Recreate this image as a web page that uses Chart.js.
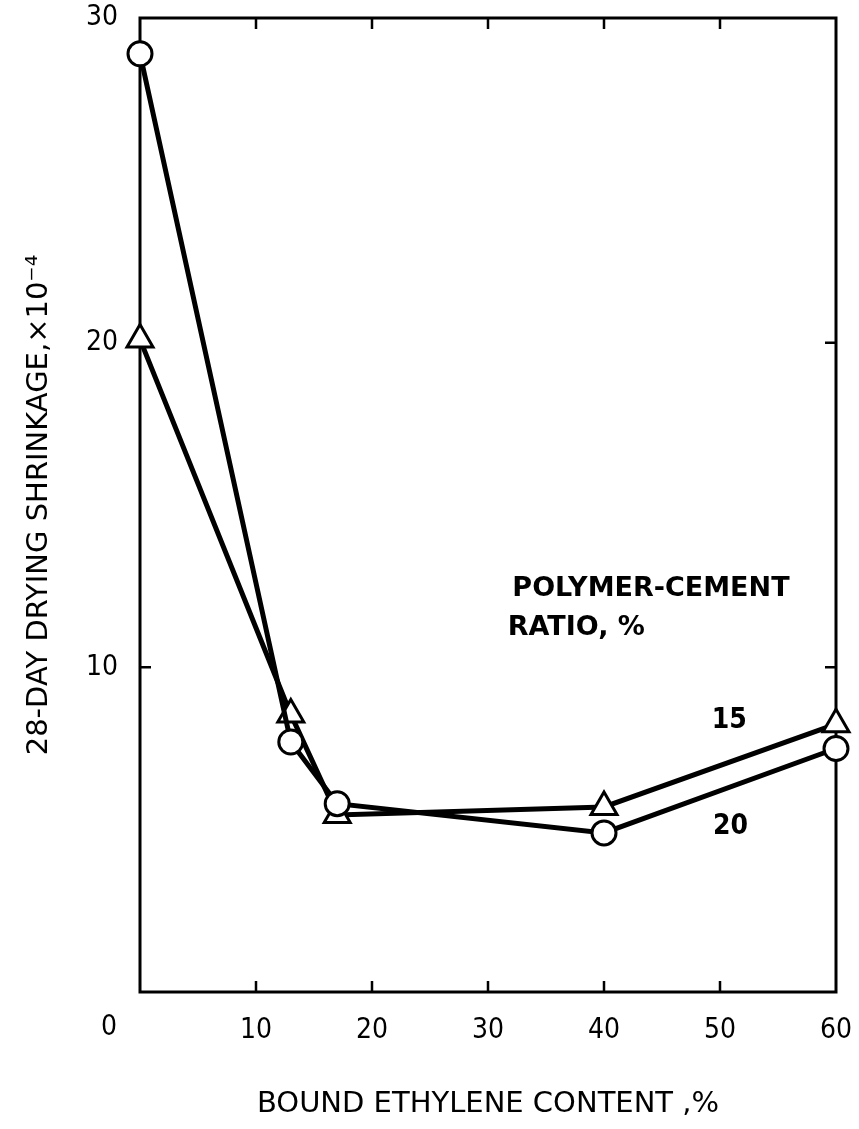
<!DOCTYPE html>
<html>
<head>
<meta charset="utf-8">
<script src="https://cdn.jsdelivr.net/npm/chart.js@4.4.0/dist/chart.umd.min.js"></script>
<style>
  html, body { margin: 0; padding: 0; background: #fff; }
  #wrap { width: 859px; height: 1129px; }
</style>
</head>
<body>
<div id="wrap"><canvas id="shrinkChart"></canvas></div>
<script>
// bound ethylene content, %
const bound = [0, 13, 17, 40, 60];
// 28-day drying shrinkage x10^-4, by polymer-cement ratio
const ratio15 = [20.1, 8.55, 5.45, 5.7, 8.25];
const ratio20 = [28.9, 7.7, 5.8, 4.9, 7.5];
const xTicks = [0, 10, 20, 30, 40, 50, 60];
const yTicks = [0, 10, 20, 30];

const FONT = "'Liberation Sans Narrow', 'DejaVu Sans Condensed', sans-serif";
const TITLE_FONT = "'DejaVu Sans', sans-serif";

const toPoints = ys => bound.map((x, i) => ({ x: x, y: ys[i] }));

// frame with inward ticks, the offset origin label and the inline notes
const framePlugin = {
    id: 'frame',
    beforeDatasetsDraw(chart) {
        const { ctx, chartArea: a, scales: { x, y } } = chart;
        ctx.save();
        ctx.strokeStyle = '#000';
        ctx.lineWidth = 3;
        ctx.strokeRect(a.left, a.top, a.right - a.left, a.bottom - a.top);
        ctx.lineWidth = 2.5;
        ctx.beginPath();
        xTicks.slice(1, -1).forEach(v => {
            const px = x.getPixelForValue(v);
            ctx.moveTo(px, a.bottom); ctx.lineTo(px, a.bottom - 11);
            ctx.moveTo(px, a.top); ctx.lineTo(px, a.top + 11);
        });
        yTicks.slice(1, -1).forEach(v => {
            const py = y.getPixelForValue(v);
            ctx.moveTo(a.left, py); ctx.lineTo(a.left + 11, py);
            ctx.moveTo(a.right, py); ctx.lineTo(a.right - 11, py);
        });
        ctx.stroke();
        ctx.restore();
    },
    afterDraw(chart) {
        const { ctx, scales: { x, y } } = chart;
        ctx.save();
        ctx.fillStyle = '#000';
        ctx.textBaseline = 'middle';
        // origin label sits left of the axis corner
        ctx.font = '28px ' + FONT;
        ctx.textAlign = 'center';
        ctx.fillText('0', x.getPixelForValue(0) - 31, y.getPixelForValue(0) + 36);
        ctx.font = 'bold 27px DejaVu Sans';
        ctx.textAlign = 'left';
        ctx.fillText('POLYMER-CEMENT', x.getPixelForValue(32.1), y.getPixelForValue(12.4));
        ctx.fillText('RATIO, %', x.getPixelForValue(31.7), y.getPixelForValue(11.2));
        ctx.font = 'bold 28px ' + FONT;
        ctx.textAlign = 'center';
        ctx.fillText('15', x.getPixelForValue(50.8), y.getPixelForValue(8.35));
        ctx.fillText('20', x.getPixelForValue(50.9), y.getPixelForValue(5.1));
        ctx.restore();
    }
};

new Chart(document.getElementById('shrinkChart'), {
    type: 'scatter',
    data: {
        datasets: [
            {
                label: '20',
                data: toPoints(ratio20),
                showLine: true,
                borderColor: '#000',
                borderWidth: 5,
                pointStyle: 'circle',
                pointRadius: 12,
                pointBorderWidth: 3,
                pointBackgroundColor: '#fff',
                pointBorderColor: '#000',
                clip: false
            },
            {
                label: '15',
                data: toPoints(ratio15),
                showLine: true,
                borderColor: '#000',
                borderWidth: 5,
                pointStyle: 'triangle',
                pointRadius: 15,
                pointBorderWidth: 3,
                pointBackgroundColor: '#fff',
                pointBorderColor: '#000',
                clip: false
            }
        ]
    },
    options: {
        responsive: true,
        maintainAspectRatio: false,
        animation: false,
        events: [],
        layout: { padding: { top: 18, right: 23, bottom: 0, left: 0 } },
        plugins: { legend: { display: false }, tooltip: { enabled: false } },
        scales: {
            x: {
                type: 'linear',
                min: 0, max: 60,
                afterFit: s => { s.height = 137; s.paddingLeft = 0; s.paddingRight = 0; },
                afterBuildTicks: s => { s.ticks = xTicks.map(v => ({ value: v })); },
                grid: { display: false, drawTicks: false },
                border: { display: false },
                ticks: {
                    padding: 22,
                    color: '#000',
                    font: { family: FONT, size: 28 },
                    callback: v => v === 0 ? '' : v
                },
                title: {
                    display: true,
                    text: 'BOUND ETHYLENE CONTENT ,%',
                    color: '#000',
                    font: { family: TITLE_FONT, size: 29 },
                    padding: { top: 0, bottom: 7 }
                }
            },
            y: {
                type: 'linear',
                min: 0, max: 30,
                afterFit: s => { s.width = 140; s.paddingTop = 0; s.paddingBottom = 0; },
                afterBuildTicks: s => { s.ticks = yTicks.map(v => ({ value: v })); },
                grid: { display: false, drawTicks: false },
                border: { display: false },
                ticks: {
                    padding: 22,
                    color: '#000',
                    font: { family: FONT, size: 28 },
                    callback: v => v === 0 ? '' : v
                },
                title: {
                    display: true,
                    text: '28-DAY DRYING SHRINKAGE,×10⁻⁴',
                    color: '#000',
                    font: { family: TITLE_FONT, size: 29 },
                    padding: { top: 22, bottom: 0 }
                }
            }
        }
    },
    plugins: [framePlugin]
});
</script>
</body>
</html>
